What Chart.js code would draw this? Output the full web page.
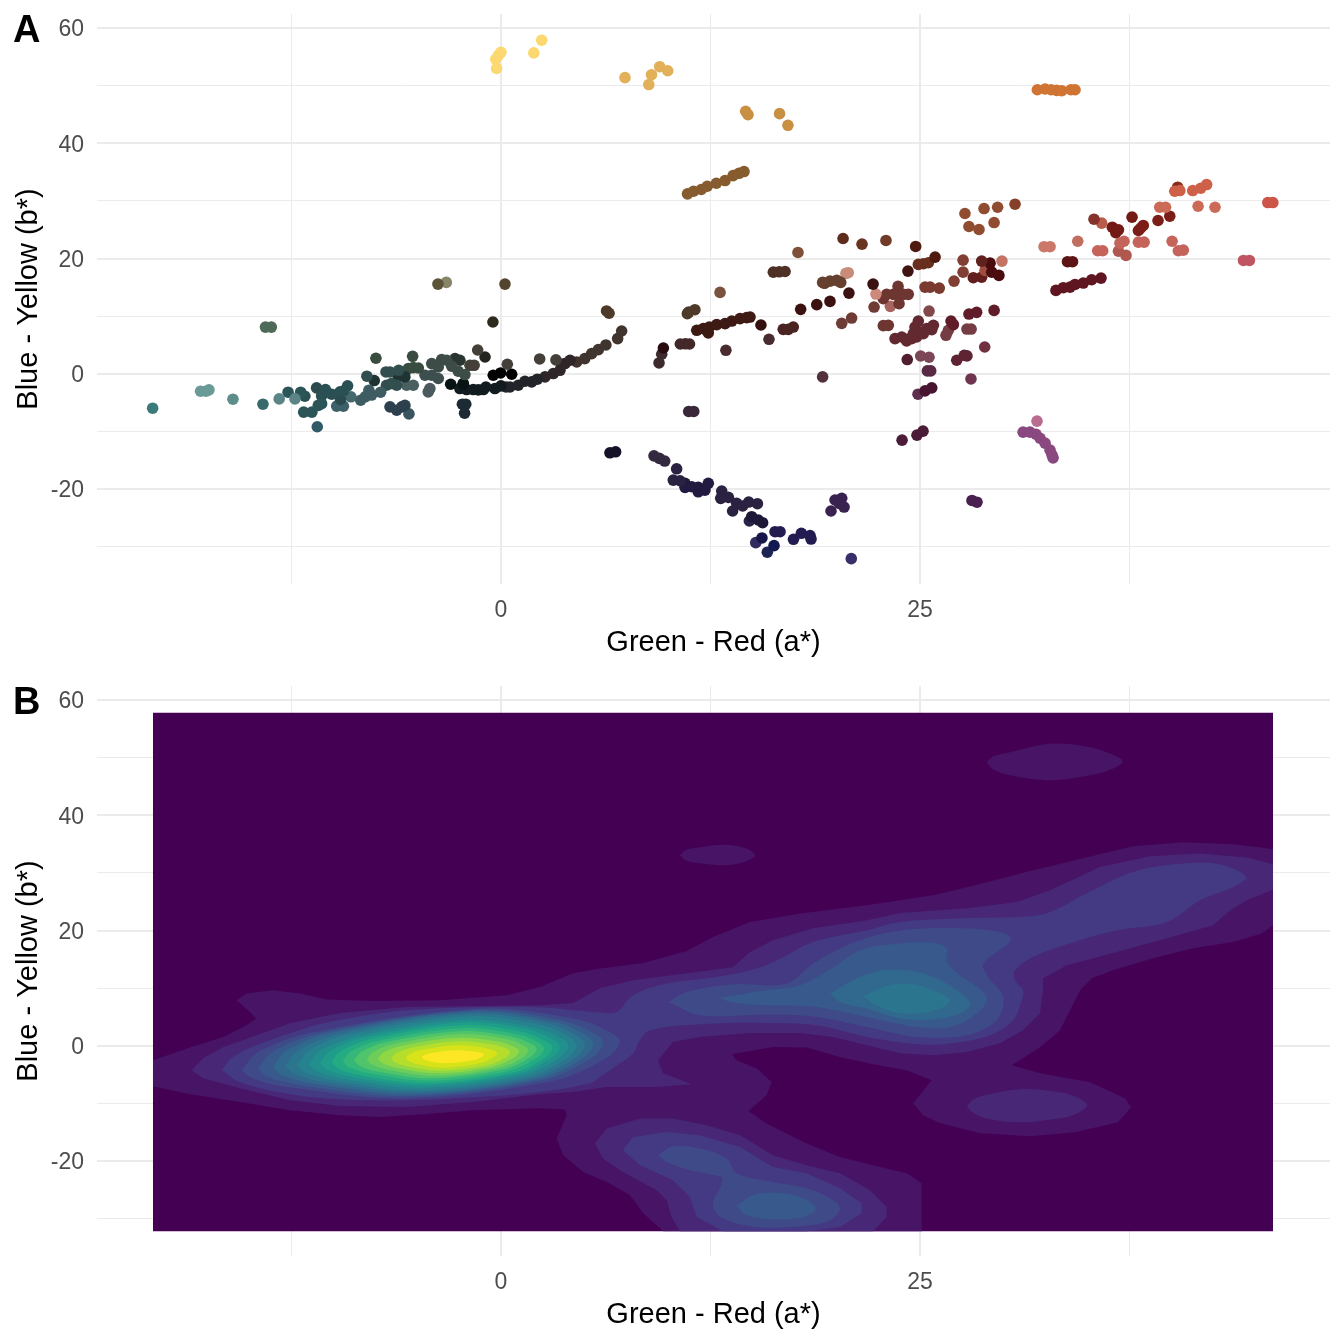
<!DOCTYPE html>
<html>
<head>
<meta charset="utf-8">
<title>Green-Red / Blue-Yellow</title>
<script src="https://cdn.jsdelivr.net/npm/chart.js@4"></script>
<style>
  html, body { margin: 0; background: #fff; }
  #wrap { position: relative; width: 1344px; height: 1344px; overflow: hidden; }
  canvas { position: absolute; left: 0; }
  #chartA { top: 0; }
  #chartB { top: 672px; }
  .tag { position: absolute; left: 13px; font: bold 38px "Liberation Sans", Arial, sans-serif; line-height: 38px; color: #000; }
</style>
</head>
<body>
<div id="wrap">
  <canvas id="chartA"></canvas>
  <canvas id="chartB"></canvas>
  <div class="tag" style="top:10px">A</div>
  <div class="tag" style="top:682px">B</div>
</div>
<script>
// axes
const xTicks = [-12.5, 0, 12.5, 25, 37.5];
const xLabels = [0, 25];
const yTicks = [-30, -20, -10, 0, 10, 20, 30, 40, 50, 60];
const yLabels = [-20, 0, 20, 40, 60];
const xTitle = "Green - Red (a*)";
const yTitle = "Blue - Yellow (b*)";

// panel A : [a*, b*], one colour per group
const pointColors = [
  "#3a7a78", "#6a9a96", "#5e8e8c", "#376a6c", "#4f6a58", "#5a8486", "#2c5558", "#2a5054",
  "#305a68", "#2a4c4e", "#3e6068", "#46686c", "#3e5c62", "#334e4e", "#1e3433", "#4a6060",
  "#394c40", "#3c4e4e", "#4a5a5e", "#3e4c48", "#2b3530", "#443f38", "#22241e", "#2e2a1c",
  "#54442e", "#5c5438", "#878468", "#1c2a34", "#2c404e", "#3a5560", "#081414", "#121c20",
  "#22242a", "#2e2628", "#40342f", "#020202", "#1c0c0c", "#4e3a28", "#2a0c10", "#3d2a2d",
  "#43282a", "#4e3024", "#7a5240", "#4a2c30", "#3e1a14", "#34100e", "#4a2422", "#3c1210",
  "#66402e", "#52303e", "#3a2838", "#16122a", "#332a40", "#2a2240", "#221a40", "#1e1838",
  "#2c2448", "#221c50", "#161648", "#302c60", "#141850", "#1c2454", "#3a2250", "#3a2e6a",
  "#4a2050", "#8a4880", "#b86c90", "#4a1c38", "#86402a", "#904c30", "#5e2c1a", "#6a3422",
  "#703c28", "#4e1a10", "#7e5038", "#682e1e", "#401410", "#803e34", "#60201c", "#4a0c0e",
  "#c47464", "#a04c40", "#621e1c", "#7a3a30", "#663a28", "#c88c78", "#cc8a7c", "#6e3630",
  "#a8645e", "#6e3c34", "#82484a", "#601c28", "#763c44", "#622a30", "#703040", "#5e2434",
  "#501e2c", "#7c4858", "#5a2a44", "#6e3450", "#481430", "#5e3050", "#ce6048", "#8a2c1c",
  "#cc6a58", "#cc5448", "#7c1e18", "#84322a", "#b85c4c", "#741a14", "#c06e60", "#cc7868",
  "#c4645a", "#b05850", "#c05460", "#5e1414", "#601620", "#fcd870", "#e2b058", "#c98f42",
  "#865c2e", "#d07434"
];
const pointGroups = [
  [[-20.78, -5.98]],
  [[-17.92, -3.03], [-17.6, -3.03], [-17.42, -2.8]],
  [[-15.99, -4.42]],
  [[-14.2, -5.29]],
  [[-14.05, 8.1], [-13.7, 8.1]],
  [[-13.23, -4.37], [-12.29, -4.37]],
  [[-12.7, -3.2], [-11.95, -3.2], [-11.77, -6.67], [-11.28, -6.67], [-10.9, -5.5], [-10.7, -5.2]],
  [[-11.7, -3.9], [-10.7, -3.85], [-10.47, -2.74], [-10.1, -3.55], [-9.6, -3.15], [-9.4, -3], [-9.15, -2.1]],
  [[-10.96, -9.2]],
  [[-11, -2.46], [-9.57, -4.47]],
  [[-9.8, -5.63], [-9.4, -5.63]],
  [[-8.95, -4]],
  [[-8.37, -4.6], [-7.88, -2.86], [-8.1, -4], [-7.72, -3.7], [-7.18, -3.2]],
  [[-8, -0.43], [-6.86, 0.31], [-6.62, 0.31], [-6.1, 0.6], [-6.83, -2], [-6.54, -1.7], [-6.22, -2]],
  [[-7.56, -1.18], [-6.13, -0.55], [-5.73, -0.55]],
  [[-5.63, -2], [-5.23, -2]],
  [[-7.46, 2.69], [-5.27, 3.03], [-5.53, 0.9], [-5.23, 1.07], [-4.93, 1]],
  [[-4.53, -0.26], [-4.13, -0.26], [-3.74, -0.83]],
  [[-4.24, -2.57], [-4.34, -3.15]],
  [[-4.13, 1.77], [-3.74, 1.18], [-2.94, 1.3], [-2.55, 0.43], [-2.15, -0.14], [-3.54, 2.46], [-3.24, 2.34]],
  [[-2.74, 2.63], [-2.45, 2.34]],
  [[-1.85, 1.47], [-1.6, 1.47], [-1.39, 4.12], [0.38, 1.65], [2.31, 2.57], [3.28, 2.4]],
  [[-0.95, 2.91]],
  [[-0.48, 8.98]],
  [[0.24, 15.56]],
  [[-3.76, 15.56]],
  [[-3.26, 15.86]],
  [[-2.3, -5.29], [-2.1, -5.29], [-2.17, -6.85]],
  [[-6.62, -5.75], [-6.22, -6.33], [-5.92, -5.75], [-5.73, -5.5]],
  [[-5.49, -6.97]],
  [[-3, -1.82], [-2.25, -1.82], [-2.25, -1.7]],
  [[-2.45, -2.57], [-2.05, -2.74], [-1.65, -2.74], [-1.35, -2.8], [-1.05, -2.74], [-0.9, -2.3], [-0.36, -2.57], [0, -2.1]],
  [[0.3, -2.3], [0.54, -2.3], [1.03, -2], [1.43, -1.3], [1.83, -1.42], [2.17, -0.95]],
  [[2.63, -0.55], [3.12, 0.03], [3.52, 0.6], [3.82, 1.77], [4.12, 2.34]],
  [[4.52, 2.05], [5, 2.63], [5.41, 3.5], [5.81, 4.19], [6.26, 5], [6.96, 6.1], [7.2, 7.42]],
  [[-0.46, -0.26], [-0.02, 0.14], [0.64, -0.09]],
  [[3.62, 1.65]],
  [[6.3, 10.9], [6.45, 10.5], [11.2, 10.7], [11.57, 11.12], [11.12, 10.43]],
  [[9.69, 4.47]],
  [[9.59, 3.38], [9.43, 1.87]],
  [[10.7, 5.16], [11, 5.2], [11.25, 5.16]],
  [[16.25, 17.64], [16.6, 17.7], [16.95, 17.75]],
  [[13.07, 14.12]],
  [[13.42, 4.07], [15.99, 5.98]],
  [[11.68, 7.54], [12.07, 7.83], [12.43, 8.11], [12.37, 7.07], [12.87, 8.53], [13.37, 8.7], [13.77, 9.15], [14.26, 9.57], [14.66, 9.74], [14.86, 9.84]],
  [[15.51, 8.46]],
  [[16.84, 7.71], [17.14, 7.71], [17.44, 8.11]],
  [[17.88, 11.18], [18.84, 11.99], [19.63, 12.56], [20.76, 14], [22.2, 15.56]],
  [[19.19, 15.86], [19.63, 16.08], [20.03, 16.2], [20.27, 15.86]],
  [[19.19, -0.55]],
  [[11.2, -6.55], [11.5, -6.55]],
  [[6.5, -13.72], [6.84, -13.55]],
  [[9.13, -14.25], [9.45, -14.7], [9.77, -15.16]],
  [[10.48, -16.5], [10.28, -18.46], [10.68, -18.58], [13.17, -20.36], [13.11, -21.63], [13.57, -21.46], [14.06, -22.5], [14.42, -22.96], [13.82, -23.83], [14.78, -22.27], [15.3, -22.56]],
  [[10.98, -19.03], [10.98, -19.72], [11.38, -19.62], [11.77, -19.72], [11.77, -20.49], [12.17, -20.2], [12.37, -19.03]],
  [[14.96, -24.82], [15.35, -25.39], [15.61, -25.86]],
  [[14.82, -25.56]],
  [[16.35, -27.42], [16.65, -27.42], [17.45, -28.74], [17.92, -27.7], [18.44, -28.1], [18.5, -28.7]],
  [[15.57, -28.51]],
  [[15.2, -29.32]],
  [[16.29, -29.84]],
  [[15.89, -30.98]],
  [[19.93, -21.92], [20.33, -21.63], [20.18, -22.5], [20.47, -23.14], [19.69, -23.83]],
  [[20.9, -32.1]],
  [[28.1, -22], [28.4, -22.3]],
  [[31.15, -10.14], [31.56, -10.14], [31.92, -10.5], [32.16, -11.2], [32.46, -12.05], [32.76, -13.26], [32.88, -14.13], [32.94, -14.6]],
  [[31.98, -8.23]],
  [[23.93, -11.53], [24.82, -10.66], [25.18, -9.97]],
  [[30.67, 29.43]],
  [[29.63, 28.9], [28.82, 28.68], [27.68, 27.82], [27.92, 25.56], [28.52, 25.04], [29.42, 26.25]],
  [[20.41, 23.48]],
  [[21.54, 22.5]],
  [[22.97, 23.14]],
  [[24.74, 22.1], [25.9, 20.25]],
  [[17.72, 21.06]],
  [[24.9, 18.98], [25.2, 19.1], [25.5, 19.27]],
  [[24.28, 17.82]],
  [[27.57, 19.72], [27.57, 17.64], [27.03, 16.08]],
  [[28.68, 19.55]],
  [[29.18, 19.2], [29.28, 17.64], [29.71, 17.07]],
  [[29.89, 19.55]],
  [[28.88, 17.94]],
  [[28.18, 16.67], [28.68, 16.78]],
  [[26.15, 14.87], [25.3, 15.04], [25.6, 15.04]],
  [[19.3, 15.7]],
  [[20.58, 17.42], [20.72, 17.54]],
  [[22.37, 13.83]],
  [[23.69, 15.16], [22.81, 13.03], [23.01, 13.78], [23.41, 13.78], [23.71, 13.9], [24, 13.78], [24.3, 13.78], [23.75, 12.17], [22.81, 8.35], [23.11, 8.4]],
  [[23.23, 11.7]],
  [[22.26, 11.58], [20.33, 8.75], [20.92, 9.67]],
  [[25.54, 10.88]],
  [[27.92, 10.36], [28.38, 10.66], [29.42, 11], [26.85, 9.15], [26.99, 8.53]],
  [[27.8, 7.76], [28.05, 7.76], [26.69, 7.54], [26.55, 6.67]],
  [[24.9, 9.15], [23.51, 6.1], [23.91, 6.38], [24.2, 5.98], [24.5, 6.1], [24.8, 6.38], [25, 7.24], [25.4, 7.83], [25.8, 8.41], [25.7, 7.66], [24.7, 8.11], [24.2, 5.7], [24.6, 6.97], [25.2, 6.97]],
  [[28.86, 4.64]],
  [[27.64, 3.2], [27.19, 2.34], [27.8, 3.1]],
  [[24.24, 2.46]],
  [[25.04, 3.08], [25.54, 2.86]],
  [[25.64, 0.49], [25.44, 0.49]],
  [[28.04, -0.9]],
  [[25.7, -2.46], [25.3, -2.98]],
  [[24.88, -3.55]],
  [[42.1, 32.84], [41.75, 32.2], [41.27, 31.8], [40.2, 31.68], [40.5, 31.8]],
  [[40.37, 32.38]],
  [[39.3, 28.9], [39.65, 28.9], [41.59, 29.08], [42.6, 28.9]],
  [[45.75, 29.72], [46.05, 29.72]],
  [[39.9, 27.35], [39.2, 26.6], [38.32, 25.74], [38.03, 24.87], [38.17, 25.3]],
  [[35.38, 26.83]],
  [[35.84, 26.14]],
  [[36.47, 25.44], [36.84, 24.99], [36.68, 24.5], [37.65, 27.18]],
  [[34.41, 23]],
  [[32.4, 22.05], [32.76, 22.05]],
  [[35.6, 21.35], [35.9, 21.35], [37.17, 23], [36.93, 22.67], [38.03, 22.84], [38.37, 22.84], [40.04, 23], [40.41, 21.35], [40.71, 21.46]],
  [[36.84, 21.28], [37.29, 20.54]],
  [[44.3, 19.67], [44.65, 19.67]],
  [[33.8, 19.45], [34.1, 19.45]],
  [[33.11, 14.47], [33.55, 14.94], [33.95, 15.04], [34.25, 15.5], [34.74, 15.74], [35.24, 16.32], [35.8, 16.6]],
  [[-0.26, 53], [-0.31, 54.6], [-0.14, 55.3], [0, 55.8], [1.96, 55.7], [2.43, 57.9]],
  [[7.4, 51.4], [8.82, 50.2], [8.98, 51.9], [9.47, 53.3], [9.95, 52.6]],
  [[14.6, 45.55], [14.74, 44.97], [16.62, 45.15], [17.12, 43.13]],
  [[11.13, 31.23], [11.49, 31.68], [11.95, 31.98], [12.31, 32.55], [12.85, 33.07], [13.37, 33.54], [13.85, 34.4], [14.2, 34.8], [14.5, 35.1]],
  [[32, 49.3], [32.46, 49.43], [32.82, 49.3], [33.15, 49.2], [33.46, 49.13], [34, 49.3], [34.25, 49.3]]
];

// panel B : viridis levels and the density bands, outer to inner
const levelColors = [
  "#440154", "#471466", "#482777", "#443983", "#3f4a89", "#38598c", "#31688e", "#2b758e",
  "#26828e", "#21908d", "#1f9d8a", "#25ab82", "#35b779", "#50c46a", "#6ccd5a", "#8fd744",
  "#b4dd2c", "#d8e219", "#fde725"
];
const bandLevels = [0, 1, 1, 1, 2, 2, 3, 3, 2, 4, 4, 5, 5, 6, 7, 4, 5, 6, 7, 8, 9, 10, 11, 12, 13, 14, 15, 16, 17, 18];
const bands = [
  // fond du raster
  [[-20.76, -32.2], [-20.76, 57.8], [46.06, 57.8], [46.06, -32.2]],
  // L1
  [[-20.76, -2.52], [-18.56, -0.31], [-16.57, 1.53], [-15.17, 3.56], [-14.62, 4.72], [-14.98, 5.87], [-15.77, 7.9], [-15.17, 9.06], [-13.59, 9.64], [-11.99, 9.06], [-10.4, 8.02], [-7.62, 7.78], [-3.64, 7.9], [0.34, 8.77], [2.33, 10.21], [4.3, 12.59], [5.91, 13.4], [8.47, 14.38], [11.08, 16.46], [12.65, 18.89], [14.86, 21.49], [17.84, 22.95], [21.82, 24.39], [23.81, 25.26], [25.78, 26.13], [28.76, 28.21], [31.74, 30.47], [34.73, 32.55], [37.71, 34.64], [40.69, 35.33], [43.68, 34.98], [46.06, 34.17], [46.06, 20.92], [45.39, 19.48], [43.68, 18.02], [41.29, 16.93], [38.9, 15.19], [36.52, 13.11], [35.24, 11.72], [34.55, 9.64], [33.35, 2.69], [32.16, -0.26], [30.49, -3.39], [32.16, -4.77], [35.14, -6.34], [37.23, -9.11], [37.59, -10.68], [36.81, -13.28], [34.25, -15.02], [31.56, -15.71], [28.58, -15.19], [26.19, -13.4], [25.18, -12.07], [24.58, -9.98], [25.7, -5.99], [24.21, -4.25], [22.2, -3.21], [20.23, -1.94], [18.24, -0.31], [16.23, -0.21], [13.76, -1.48], [14.06, -2.52], [15.26, -3.96], [16.15, -6.28], [15.85, -8.59], [14.76, -11.32], [15.85, -13.51], [18.24, -16.98], [20.23, -19.31], [22.2, -20.75], [24.21, -22.14], [25.1, -23.92], [25.1, -32.2], [9.68, -32.2], [8.49, -29.08], [7.7, -25.95], [6.31, -23.65], [4.91, -21.91], [3.72, -19.01], [3.32, -16.11], [3.92, -12.07], [3.82, -11.08], [2.33, -10.85], [-1.67, -11.2], [-4.65, -11.89], [-7.22, -12.36], [-9.61, -12.07], [-12.59, -11.2], [-15.57, -9.76], [-18.56, -8.42], [-20.76, -7.03]],
  // petits pics isolés
  [[28.98, 49.22], [29.35, 50.2], [30.37, 50.95], [32.76, 52.43], [35.14, 51.82], [36.5, 50.5], [37.09, 49.39], [36.5, 48.1], [35.14, 46.96], [32.76, 46.09], [30.37, 46.96], [29.35, 48]],
  [[10.68, 33.07], [11.0, 33.95], [11.87, 34.46], [13.37, 34.9], [14.6, 34.3], [15.16, 33.07], [14.6, 32], [13.37, 31.34], [11.87, 31.68], [11.0, 32.2]],
  // L2
  [[-18.45, -4.25], [-17.78, -2.17], [-16.59, -0.26], [-14.58, 1.82], [-12.59, 3.91], [-9.61, 5.69], [-5.63, 6.74], [-1.67, 6.91], [2.33, 7.03], [4.3, 7.43], [5.91, 9.98], [7.88, 11.37], [11.1, 12.59], [13.84, 13.63], [14.86, 16.28], [16.23, 18.32], [18.62, 20.4], [21.84, 21.79], [23.81, 23.06], [27.8, 23.87], [30.79, 24.97], [32.76, 27], [35.74, 31.04], [38.72, 32.9], [41.71, 33.37], [44.51, 32.67], [46.06, 31.51], [46.06, 27.12], [44.51, 25.26], [43.5, 23.52], [42.48, 20.92], [39.74, 18.66], [36.75, 16.28], [33.77, 13.98], [32.34, 11.72], [32.34, 9.64], [32.16, 5.64], [31.15, 2.69], [29.77, 0.43], [27.8, -1.08], [25.78, -1.65], [23.81, -1.3], [21.84, 0.09], [19.81, 1.53], [17.84, 2.22], [14.86, 2.22], [11.87, 1.53], [10.26, 0.66], [9.37, -2.52], [9.67, -4.77], [11.38, -6.68], [9.29, -7.15], [6.31, -7.15], [4.3, -8.02], [2.33, -8.42], [-1.67, -9.76], [-5.63, -10.63], [-9.61, -10.45], [-12.59, -9.46], [-15.57, -7.38], [-17.78, -5.64]],
  [[5.61, -16.98], [6.31, -14.38], [8.29, -12.64], [10.26, -12.64], [12.27, -13.8], [14.26, -15.54], [16.23, -19.01], [18.24, -20.75], [20.23, -22.14], [22.02, -25.09], [23.01, -27.99], [23.01, -29.72], [22.2, -32.2], [10.68, -32.2], [10.18, -29.72], [9.89, -26.82], [9.29, -25.09], [7.28, -21.91], [6.09, -19.58]],
  // L3
  [[-16.66, -4.25], [-15.99, -1.94], [-14.58, 0.09], [-12.59, 2.17], [-10.62, 3.91], [-8.61, 5], [-6.62, 5.87], [-4.65, 6.34], [-1.67, 6.68], [2.33, 6.68], [5.91, 5.76], [6.9, 5.87], [7.88, 8.77], [9.89, 10.8], [12.87, 11.94], [15.45, 13.58], [17.05, 15.71], [18.62, 18.02], [21.82, 20.05], [23.81, 21.49], [27.8, 22.19], [30.79, 22.36], [32.56, 23], [34.73, 26.13], [37.71, 30.17], [40.69, 31.63], [42.9, 31.46], [44.45, 29.31], [43.68, 27.57], [41.71, 25.26], [39.74, 21.49], [36.75, 20.05], [34.55, 18.32], [31.74, 15.42], [30.67, 13.11], [30.67, 11.37], [31.15, 9.64], [31.07, 7.9], [30.55, 4.43], [29.18, 1.82], [26.79, 0.38], [24.8, 0.26], [21.82, 1.53], [18.84, 3.56], [15.85, 3.96], [11.87, 3.73], [8.89, 2.69], [8.29, 0.95], [7.88, -1.35], [7.1, -3.04], [5.91, -5.42], [5.31, -6.51], [2.33, -8.02], [-1.67, -8.94], [-5.63, -9.46], [-9.61, -9.29], [-12.59, -8.42], [-15.57, -6.34]],
  [[7.28, -18.14], [7.88, -15.83], [9.89, -14.97], [11.87, -15.54], [14.26, -17.57], [16.23, -21.04], [18.24, -22.14], [20.23, -24.74], [21.52, -27.34], [21.52, -29.08], [20.23, -31.46], [18.24, -32.2], [13.25, -32.2], [11.68, -29.72], [11.28, -26.25], [10.26, -23.35], [8.29, -20.75]],
  [[27.8, -10.5], [28.15, -9.4], [28.88, -8.59], [30.97, -7.55], [33.35, -8.07], [34.4, -9], [34.96, -10.33], [34.4, -11.7], [33.35, -12.59], [30.97, -13.28], [28.88, -12.59], [28.15, -11.6]],
  // L4 .. L7, zone centrale droite et lobe du bas
  [[9.98, 7.6], [11.08, 9.34], [13.86, 10.68], [17.05, 10.8], [18.63, 14.27], [20.42, 17.15], [22.81, 19.48], [25.79, 20.45], [29.77, 19.76], [30.41, 18.32], [28.78, 14.27], [29.07, 11.94], [29.97, 8.47], [29.58, 4.43], [27.79, 1.82], [24.8, 1.53], [21.82, 3.26], [18.84, 5], [15.85, 5.42], [11.87, 5.3]],
  [[9.37, -19.01], [10.26, -17.45], [11.87, -17.85], [13.47, -19.58], [14.06, -22.14], [16.23, -23.65], [18.24, -24.74], [19.63, -26.48], [20.23, -28.21], [19.63, -30.3], [17.84, -31.34], [15.26, -31.46], [13.25, -29.95], [12.65, -27.69], [13.17, -23.87], [13.17, -22.83], [11.28, -21.61], [9.89, -20.17]],
  [[13.07, 8.37], [15.85, 9.64], [17.84, 10.5], [19.83, 13.58], [21.42, 16.58], [23.81, 17.74], [25.79, 17.85], [26.59, 16.88], [26.59, 14.84], [26.99, 13.11], [28.98, 8.47], [28.38, 5.59], [26.79, 3.26], [24.8, 3.26], [21.82, 5], [18.84, 6.74], [15.85, 7.03], [13.66, 7.6]],
  [[14.06, -27.81], [15.05, -25.95], [16.25, -25.49], [17.84, -26.25], [18.79, -28.26], [18.04, -29.74], [16.25, -30.12], [14.66, -29.43]],
  [[19.63, 9.06], [21.42, 11.94], [23.41, 13.23], [25.79, 11.94], [27.98, 7.6], [27.58, 5.87], [25.79, 4.55], [23.81, 4.72], [21.82, 6.46], [20.23, 7.6]],
  [[21.62, 8.59], [22.81, 10.21], [24.21, 10.8], [25.79, 9.64], [26.79, 7.9], [26.19, 6.46], [24.8, 5.59], [23.41, 5.87], [22.21, 7.33]],
  // bosse principale, L4 à L18
  [[-15.47, -4.25], [-14.47, -1.05], [-11.2, 2.36], [-1.25, 6.42], [4.43, 4.69], [6.52, 2.35], [7.1, 0.61], [6.2, -2.31], [2.95, -6.2], [-5.73, -9.11], [-12.55, -7.27], [-14.79, -5.71]],
  [[-14.5, -3.99], [-13.59, -0.94], [-10.61, 2.31], [-1.55, 6.16], [3.65, 4.44], [5.56, 2.15], [6.1, 0.43], [5.29, -2.33], [2.41, -6.01], [-5.43, -8.77], [-11.78, -6.94], [-13.87, -5.42]],
  [[-13.62, -3.73], [-12.8, -0.84], [-10.09, 2.24], [-1.85, 5.9], [3.15, 4.2], [4.99, 1.95], [5.51, 0.26], [4.77, -2.34], [2.09, -5.82], [-5.13, -8.42], [-11.07, -6.63], [-13.03, -5.14]],
  [[-12.89, -3.56], [-12.12, -0.82], [-9.58, 2.1], [-1.85, 5.56], [2.82, 3.91], [4.53, 1.73], [5.01, 0.09], [4.31, -2.36], [1.83, -5.63], [-4.95, -8.07], [-10.51, -6.35], [-12.33, -4.91]],
  [[-12.17, -3.39], [-11.46, -0.84], [-9.11, 1.89], [-1.97, 5.12], [2.44, 3.58], [4.07, 1.54], [4.52, 0], [3.87, -2.32], [1.53, -5.4], [-4.83, -7.73], [-9.97, -6.08], [-11.66, -4.7]],
  [[-11.46, -3.21], [-10.81, -0.89], [-8.66, 1.58], [-2.15, 4.51], [2.04, 3.13], [3.58, 1.29], [4.02, -0.09], [3.4, -2.25], [1.22, -5.12], [-4.71, -7.29], [-9.43, -5.75], [-10.99, -4.43]],
  [[-10.8, -3.04], [-10.19, -0.9], [-8.2, 1.37], [-2.15, 4.08], [1.71, 2.78], [3.12, 1.05], [3.52, -0.26], [2.94, -2.24], [0.94, -4.88], [-4.53, -6.86], [-8.92, -5.4], [-10.36, -4.18]],
  [[-10.1, -2.86], [-9.56, -0.93], [-7.77, 1.13], [-2.33, 3.56], [1.34, 2.36], [2.68, 0.77], [3.06, -0.43], [2.54, -2.25], [0.69, -4.69], [-4.36, -6.51], [-8.38, -5.12], [-9.7, -3.95]],
  [[-9.45, -2.69], [-8.95, -0.97], [-7.31, 0.87], [-2.33, 3.04], [1.01, 1.96], [2.24, 0.55], [2.58, -0.52], [2.1, -2.19], [0.4, -4.41], [-4.24, -6.08], [-7.88, -4.79], [-9.08, -3.71]],
  [[-8.77, -2.52], [-8.33, -1.01], [-6.87, 0.61], [-2.45, 2.52], [0.67, 1.58], [1.81, 0.33], [2.13, -0.61], [1.69, -2.12], [0.13, -4.13], [-4.12, -5.64], [-7.37, -4.46], [-8.44, -3.46]],
  [[-8.01, -2.34], [-7.62, -1.04], [-6.34, 0.35], [-2.45, 2], [0.32, 1.16], [1.34, 0.05], [1.63, -0.78], [1.25, -2.11], [-0.16, -3.89], [-3.94, -5.21], [-6.79, -4.11], [-7.73, -3.2]],
  [[-7.34, -2.26], [-7.01, -1.16], [-5.91, 0], [-2.57, 1.39], [-0.08, 0.69], [0.83, -0.25], [1.09, -0.95], [0.76, -2.1], [-0.46, -3.63], [-3.76, -4.77], [-6.26, -3.82], [-7.09, -3.01]],
  [[-6.56, -2.17], [-6.28, -1.29], [-5.36, -0.35], [-2.57, 0.78], [-0.45, 0.21], [0.32, -0.5], [0.54, -1.13], [0.25, -2.09], [-0.8, -3.39], [-3.64, -4.34], [-5.69, -3.52], [-6.36, -2.82]],
  [[-5.69, -2.08], [-5.48, -1.43], [-4.79, -0.74], [-2.68, 0.09], [-1.01, -0.33], [-0.39, -0.88], [-0.22, -1.3], [-0.46, -2.06], [-1.26, -3.06], [-3.46, -3.82], [-5.02, -3.16], [-5.53, -2.6]],
  [[-4.73, -2], [-4.59, -1.63], [-4.13, -1.25], [-2.74, -0.78], [-1.57, -0.99], [-1.14, -1.27], [-1.01, -1.48], [-1.17, -1.95], [-1.76, -2.57], [-3.34, -3.04], [-4.31, -2.64], [-4.63, -2.31]]
];
const xMin = -24.1, xMax = 49.46, yMin = -36.5, yMax = 62.45;

function toXY(list) {
  return list.map(p => ({ x: p[0], y: p[1] }));
}

function scatterDatasets() {
  return pointGroups.map((group, i) => ({
    data: toXY(group),
    backgroundColor: pointColors[i],
    borderWidth: 0,
    pointRadius: 5.8,
    pointHoverRadius: 5.8,
    showLine: false
  }));
}

// une bande touche le bord du raster -> pas de lissage
function touchesEdge(band) {
  return band.some(p => p[0] <= -20.76 || p[0] >= 46.06 || p[1] <= -32.2);
}

function bandDatasets() {
  return bands.map((band, i) => {
    const closed = toXY(band.concat([band[0]]));
    return {
      data: closed,
      showLine: true,
      fill: "shape",
      backgroundColor: levelColors[bandLevels[i]],
      borderColor: levelColors[bandLevels[i]],
      borderWidth: 0,
      pointRadius: 0,
      tension: touchesEdge(band) ? 0 : 0.35,
      order: bands.length - i
    };
  });
}

function config(datasets) {
  const tickFont = { family: "'Liberation Sans', Arial, sans-serif", size: 23 };
  const titleFont = { family: "'Liberation Sans', Arial, sans-serif", size: 29 };
  return {
    type: "scatter",
    data: { datasets: datasets },
    options: {
      responsive: false,
      animation: false,
      devicePixelRatio: 1,
      layout: { padding: { top: 14, right: 14, left: 0, bottom: 0 } },
      plugins: { legend: { display: false }, tooltip: { enabled: false } },
      scales: {
        x: {
          type: "linear", min: xMin, max: xMax,
          afterBuildTicks: s => { s.ticks = xTicks.map(v => ({ value: v })); },
          afterFit: s => { s.height = 88; },
          grid: {
            color: "#EBEBEB", drawTicks: false,
            lineWidth: c => (c.tick && xLabels.includes(c.tick.value)) ? 2 : 1
          },
          border: { display: false },
          ticks: {
            autoSkip: false, maxRotation: 0, padding: 13, color: "#4D4D4D", font: tickFont,
            callback: v => xLabels.includes(v) ? String(v) : ""
          },
          title: { display: true, text: xTitle, color: "#000", font: titleFont, padding: { top: 0, bottom: 12 } }
        },
        y: {
          type: "linear", min: yMin, max: yMax,
          afterBuildTicks: s => { s.ticks = yTicks.map(v => ({ value: v })); },
          afterFit: s => { s.width = 97; s.paddingTop = 0; s.paddingBottom = 0; },
          grid: {
            color: "#EBEBEB", drawTicks: false,
            lineWidth: c => (c.tick && yLabels.includes(c.tick.value)) ? 2 : 1
          },
          border: { display: false },
          ticks: {
            autoSkip: false, padding: 13, labelOffset: 2, color: "#4D4D4D", font: tickFont,
            callback: v => yLabels.includes(v) ? String(v) : ""
          },
          title: { display: true, text: yTitle, color: "#000", font: titleFont, padding: { top: 12, bottom: 0 } }
        }
      }
    }
  };
}

function makeChart(id, datasets) {
  const canvas = document.getElementById(id);
  canvas.width = 1344;
  canvas.height = 672;
  return new Chart(canvas.getContext("2d"), config(datasets));
}

makeChart("chartA", scatterDatasets());
makeChart("chartB", bandDatasets());
</script>
</body>
</html>
